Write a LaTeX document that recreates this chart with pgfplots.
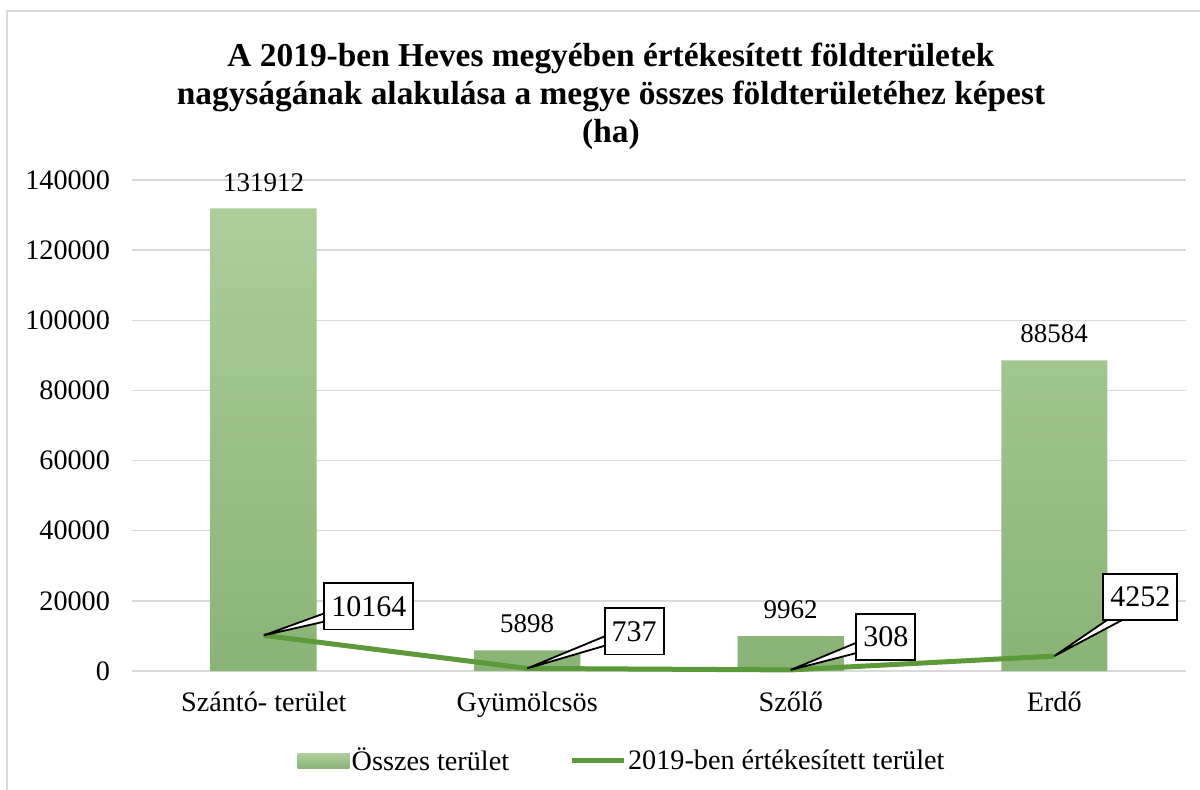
\documentclass[border=0pt]{standalone}
\usepackage{pgfplots}
\pgfplotsset{compat=1.18}
\usepackage{pgfplotstable}
\usepackage{fontspec}
\setmainfont{Liberation Serif}
\definecolor{bartop}{RGB}{172,206,155}
\definecolor{barbot}{RGB}{137,180,118}
\definecolor{linegreen}{RGB}{92,153,56}
\definecolor{gridgray}{RGB}{217,217,217}

\pgfplotstableread{
x y
0 131912
1 5898
2 9962
3 88584
}\bardata
\pgfplotstableread{
x y dx dy
0 10164 52.5 14.5
1 737 53.5 18.5
2 308 47.5 16.5
3 4252 43 29.5
}\linedata

\begin{document}
\begin{tikzpicture}
\useasboundingbox (-66pt,-59pt) rectangle (534pt,335.5pt);
\draw[gridgray, line width=0.75pt] (-62.5pt,-80pt) rectangle (560pt,330pt);
\begin{axis}[
  at={(0,0)}, anchor=south west,
  scale only axis, width=527pt, height=245.5pt,
  xmin=-0.5, xmax=3.5, ymin=0, ymax=140000,
  xtick={0,1,2,3},
  xticklabels={Szántó- terület, Gyümölcsös, Szőlő, Erdő},
  ytick={0,20000,40000,60000,80000,100000,120000,140000},
  scaled y ticks=false,
  yticklabel style={/pgf/number format/fixed, /pgf/number format/1000 sep={}, /pgf/number format/assume math mode=true, xshift=-7.5pt},
  xticklabel style={yshift=-7pt},
  tick label style={font=\fontsize{14.1}{16}\selectfont},
  major tick length=0pt,
  ymajorgrids, grid style={gridgray, line width=0.75pt},
  axis x line*=bottom, axis y line*=left,
  x axis line style={gridgray, line width=0.75pt},
  y axis line style={draw=none},
  legend style={at={(0.465,-0.183)}, anchor=center, draw=none, fill=none,
    legend columns=2, font=\fontsize{14.1}{16}\selectfont,
    /tikz/every even column/.append style={column sep=29pt},
    nodes={inner xsep=1pt}},
  clip=false,
]
\addplot[ybar, bar width=53pt, draw=none, top color=bartop, bottom color=barbot,
  point meta=explicit symbolic,
  nodes near coords={\pgfplotspointmeta},
  every node near coord/.style={font=\fontsize{13.5}{16}\selectfont, text=black, anchor=south, yshift=5pt},
  legend image code/.code={\fill[bartop!60!barbot] (0pt,-3.75pt) rectangle (26pt,3.75pt);}
] table[x=x,y=y,meta=y]{\bardata};
\addlegendentry{Összes terület}
\addplot[linegreen, line width=2.5pt, mark=none,
  legend image code/.code={\draw[linegreen, line width=2.5pt] (0pt,0pt) -- (26pt,0pt);}
] table[x=x,y=y]{\linedata};
\addlegendentry{2019-ben értékesített terület}
% callout pointers (wedges) from each data point to its label box
\addplot[forget plot, fill=white, draw=black, line width=0.9pt, line join=bevel]
  coordinates {(0,10164) (0.2505,17007) (0.2505,14441)} -- cycle;
\addplot[forget plot, fill=white, draw=black, line width=0.9pt, line join=bevel]
  coordinates {(1,737) (1.3112,10431) (1.3112,7580)} -- cycle;
\addplot[forget plot, fill=white, draw=black, line width=0.9pt, line join=bevel]
  coordinates {(2,308) (2.2657,8577) (2.2657,5440)} -- cycle;
\addplot[forget plot, fill=white, draw=black, line width=0.9pt, line join=bevel]
  coordinates {(3,4252) (3.2391,16513) (3.3074,16513)} -- cycle;
% label boxes
\addplot[forget plot, draw=none, mark=none,
  point meta=explicit symbolic,
  nodes near coords={\pgfplotspointmeta},
  visualization depends on={\thisrow{dx}\as\mydx},
  visualization depends on={\thisrow{dy}\as\mydy},
  every node near coord/.style={rectangle, draw=black, line width=0.9pt, fill=white, text=black,
    font=\fontsize{15}{18}\selectfont, anchor=center,
    xshift=\mydx pt, yshift=\mydy pt,
    inner xsep=3.5pt, inner ysep=6.5pt},
] table[x=x,y=y,meta=y]{\linedata};
\end{axis}
\node[align=center, font=\fontsize{16.7}{19}\selectfont\bfseries] at (239.5pt,287.5pt)
  {A 2019-ben Heves megyében értékesített földterületek\\nagyságának alakulása a megye összes földterületéhez képest\\(ha)};
\end{tikzpicture}
\end{document}
